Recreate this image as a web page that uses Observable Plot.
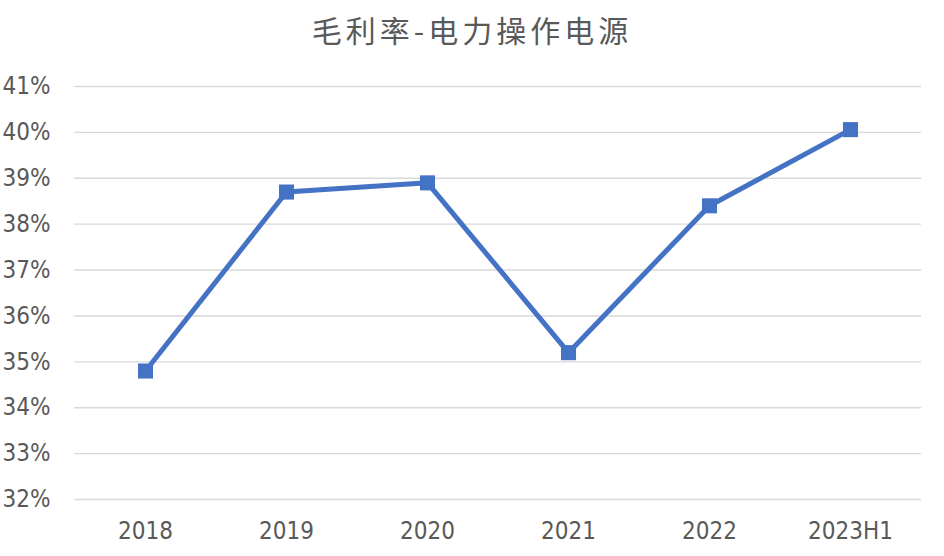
<!DOCTYPE html>
<html>
<head>
<meta charset="utf-8">
<script src="https://cdn.jsdelivr.net/npm/d3@7"></script>
<script src="https://cdn.jsdelivr.net/npm/@observablehq/plot@0.6"></script>
<style>
  html, body { margin: 0; padding: 0; background: #fff; }
  #wrap { position: relative; width: 944px; height: 556px; }
  #title {
    position: absolute; left: 0; top: 9px; width: 944px; text-align: center;
    font-family: "Noto Sans CJK SC", sans-serif; font-size: 30px; color: #595959;
    letter-spacing: 4px; line-height: 40px;
  }
</style>
</head>
<body>
<div id="wrap">
  <div id="title">毛利率-电力操作电源</div>
  <div id="chart"></div>
</div>
<script>
const years = ["2018", "2019", "2020", "2021", "2022", "2023H1"];
const grossMargin = [34.8, 38.7, 38.9, 35.2, 38.4, 40.06];
const yTicks = [32, 33, 34, 35, 36, 37, 38, 39, 40, 41];

const data = years.map((year, i) => ({ year, value: grossMargin[i] }));

const chart = Plot.plot({
  width: 944,
  height: 556,
  marginTop: 86,
  marginBottom: 57,
  marginLeft: 74,
  marginRight: 23,
  style: {
    fontFamily: "'DejaVu Sans Condensed', 'Liberation Sans Narrow', sans-serif",
    fontSize: "24px",
    color: "#595959",
    background: "transparent"
  },
  x: { type: "point", domain: years, padding: 0.5, label: null, tickSize: 0, tickPadding: 22 },
  y: { domain: [32, 41], ticks: yTicks, tickFormat: d => d + "%", tickSize: 0, tickPadding: 24, label: null },
  marks: [
    Plot.ruleY(yTicks, { stroke: "#d9d9d9", strokeWidth: 1.4 }),
    Plot.line(data, { x: "year", y: "value", stroke: "#4472C4", strokeWidth: 5 }),
    Plot.dot(data, { x: "year", y: "value", symbol: "square", r: 8.5, fill: "#4472C4", stroke: "none" })
  ]
});
document.getElementById("chart").appendChild(chart);
</script>
</body>
</html>
